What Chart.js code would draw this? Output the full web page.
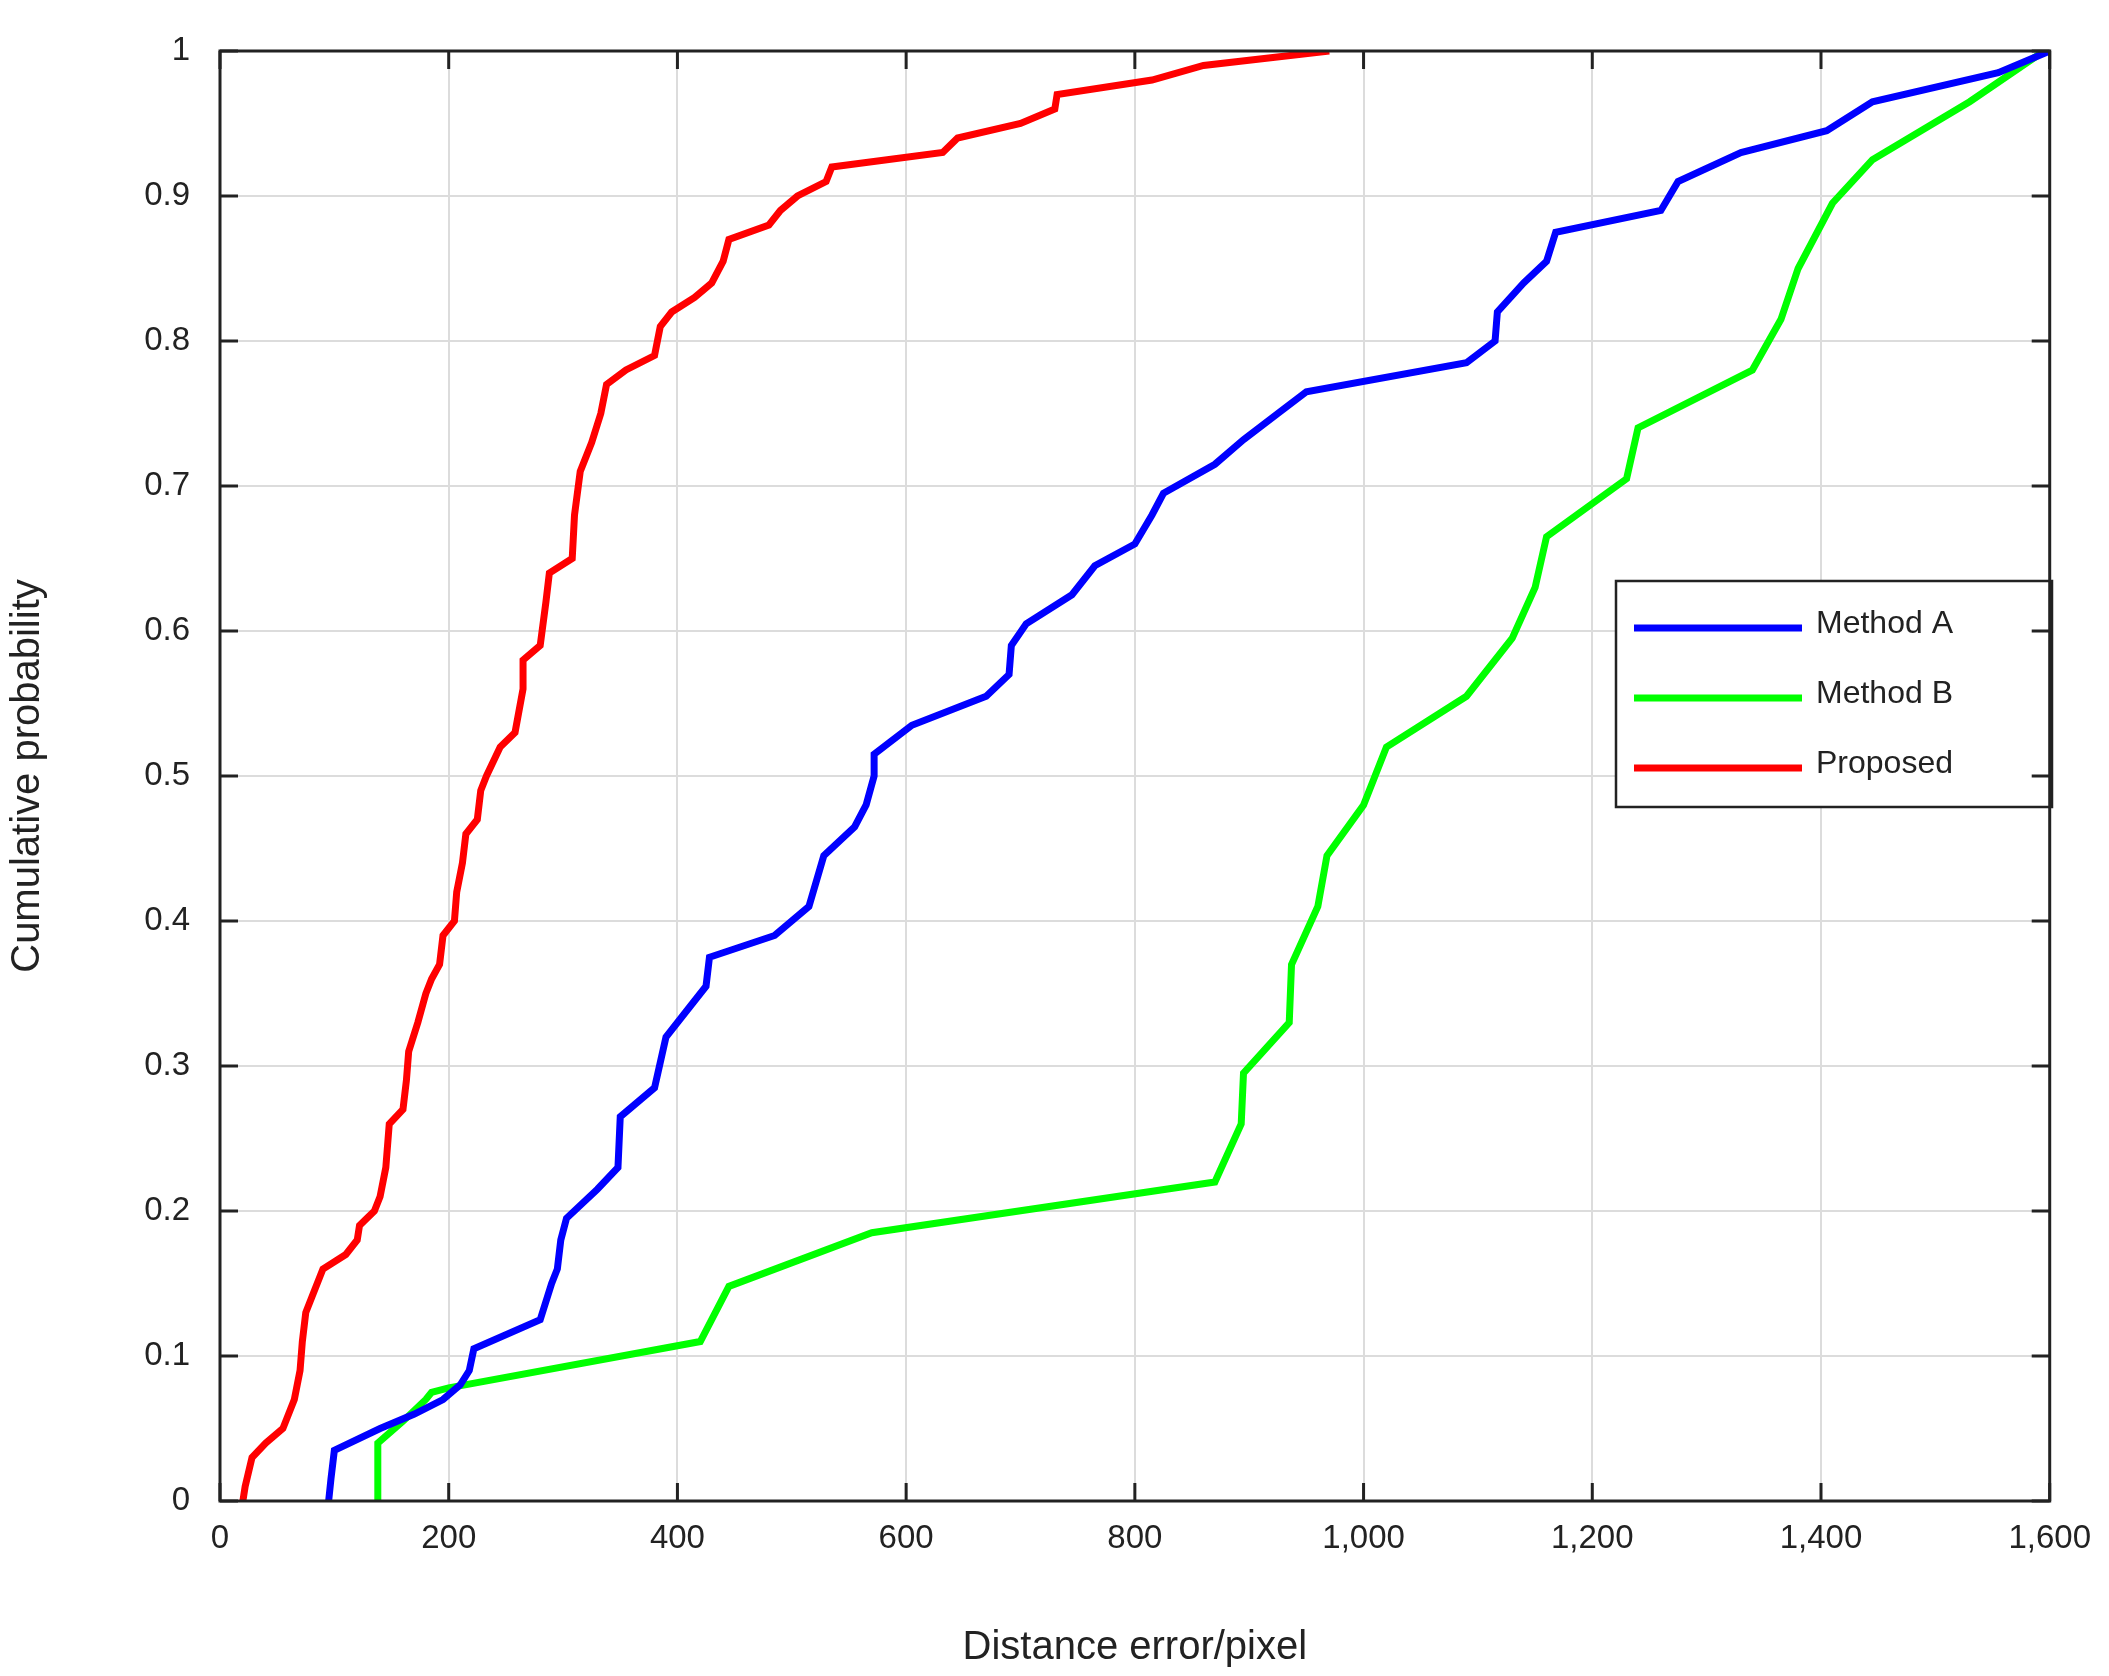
<!DOCTYPE html>
<html><head><meta charset="utf-8">
<script src="https://cdn.jsdelivr.net/npm/chart.js@4"></script>
<style>html,body{margin:0;background:#fff}#w{width:2109px;height:1676px}</style>
</head><body><div id="w"><canvas id="c"></canvas></div>
<script>
const xTicks=[0,200,400,600,800,1000,1200,1400,1600];
const yTicks=[0,0.1,0.2,0.3,0.4,0.5,0.6,0.7,0.8,0.9,1];
const seriesNames=['Method A','Method B','Proposed'];
const methodA=[[95,0],[97,0.015],[100,0.035],[140,0.05],[170,0.06],[195,0.07],[210,0.08],[218,0.09],[222,0.105],[280,0.125],[290,0.15],[295,0.16],[298,0.18],[303,0.195],[330,0.215],[348,0.23],[350,0.265],[380,0.285],[390,0.32],[410,0.34],[425,0.355],[428,0.375],[485,0.39],[515,0.41],[528,0.445],[555,0.465],[565,0.48],[572,0.5],[572,0.515],[605,0.535],[670,0.555],[690,0.57],[692,0.59],[705,0.605],[745,0.625],[765,0.645],[800,0.66],[815,0.68],[825,0.695],[870,0.715],[895,0.732],[925,0.75],[950,0.765],[1090,0.785],[1115,0.80],[1117,0.82],[1140,0.84],[1160,0.855],[1168,0.875],[1260,0.89],[1275,0.91],[1330,0.93],[1405,0.945],[1445,0.965],[1555,0.985],[1600,1.0]];
const methodB=[[138,0],[138,0.04],[160,0.055],[180,0.07],[185,0.075],[200,0.078],[420,0.11],[445,0.148],[570,0.185],[870,0.22],[893,0.26],[895,0.295],[935,0.33],[937,0.37],[960,0.41],[968,0.445],[1000,0.48],[1020,0.52],[1090,0.555],[1130,0.595],[1150,0.63],[1160,0.665],[1230,0.705],[1240,0.74],[1340,0.78],[1365,0.815],[1380,0.85],[1410,0.895],[1445,0.925],[1530,0.965],[1595,1.0]];
const proposed=[[20,0],[22,0.01],[28,0.03],[40,0.04],[55,0.05],[65,0.07],[70,0.09],[72,0.11],[75,0.13],[80,0.14],[90,0.16],[110,0.17],[120,0.18],[122,0.19],[135,0.2],[140,0.21],[145,0.23],[148,0.26],[160,0.27],[163,0.29],[165,0.31],[173,0.33],[180,0.35],[185,0.36],[192,0.37],[195,0.39],[205,0.40],[207,0.42],[212,0.44],[215,0.46],[225,0.47],[228,0.49],[233,0.50],[245,0.52],[258,0.53],[265,0.56],[265,0.58],[280,0.59],[285,0.62],[288,0.64],[308,0.65],[310,0.68],[315,0.71],[325,0.73],[333,0.75],[338,0.77],[355,0.78],[380,0.79],[385,0.81],[395,0.82],[415,0.83],[430,0.84],[440,0.855],[445,0.87],[480,0.88],[490,0.89],[505,0.90],[530,0.91],[535,0.92],[632,0.93],[645,0.94],[700,0.95],[730,0.96],[732,0.97],[815,0.98],[860,0.99],[970,1.0]];
const colors=['#0000ff','#00ff00','#ff0000'];
const toPts=a=>a.map(p=>({x:p[0],y:p[1]}));
const F='Arial, "Liberation Sans", sans-serif';
const legendPlugin={id:'lg',afterDatasetsDraw(ch){const c=ch.ctx;const x=1616,y=581,w=436,h=226;
c.save();c.fillStyle='#fff';c.fillRect(x,y,w,h);c.strokeStyle='#222';c.lineWidth=2.5;c.strokeRect(x,y,w,h);
c.font='32px '+F;c.textBaseline='middle';
seriesNames.forEach((n,i)=>{const yy=y+43+i*70;c.strokeStyle=colors[i];c.lineWidth=7;c.beginPath();c.moveTo(x+18,yy+4);c.lineTo(x+186,yy+4);c.stroke();c.fillStyle='#222';c.fillText(n,x+200,yy);});
c.restore();},
afterDraw(ch){const c=ch.ctx,a=ch.chartArea,xs=ch.scales.x,ys=ch.scales.y;c.save();c.strokeStyle='#222';c.lineWidth=3;
xTicks.forEach(v=>{const px=xs.getPixelForValue(v);c.beginPath();c.moveTo(px,a.bottom);c.lineTo(px,a.bottom-18);c.moveTo(px,a.top);c.lineTo(px,a.top+18);c.stroke();});
yTicks.forEach(v=>{const py=ys.getPixelForValue(v);c.beginPath();c.moveTo(a.left,py);c.lineTo(a.left+18,py);c.moveTo(a.right,py);c.lineTo(a.right-18,py);c.stroke();});
c.strokeRect(a.left,a.top,a.right-a.left,a.bottom-a.top);c.restore();}};
new Chart(document.getElementById('c'),{type:'line',
data:{datasets:[methodA,methodB,proposed].map((d,i)=>({label:seriesNames[i],data:toPts(d),borderColor:colors[i],borderWidth:7,pointRadius:0,tension:0,fill:false}))},
options:{responsive:true,maintainAspectRatio:false,animation:false,
layout:{padding:{top:51,right:54,left:0,bottom:0}},
plugins:{legend:{display:false},tooltip:{enabled:false}},
scales:{
x:{type:'linear',min:0,max:1600,afterBuildTicks:s=>{s.ticks=xTicks.map(v=>({value:v}));},afterFit:s=>{s.height=175;},
grid:{color:'#dcdcdc',lineWidth:2,drawTicks:false},border:{display:false},
ticks:{padding:18,color:'#222',font:{size:33,family:F}},
title:{display:true,text:'Distance error/pixel',color:'#222',font:{size:40,family:F},padding:{top:20}}},
y:{type:'linear',min:0,max:1,afterBuildTicks:s=>{s.ticks=yTicks.map(v=>({value:v}));},afterFit:s=>{s.width=220;},
grid:{color:'#dcdcdc',lineWidth:2,drawTicks:false},border:{display:false},
ticks:{padding:30,color:'#222',font:{size:33,family:F},callback:v=>String(v)},
title:{display:true,text:'Cumulative probability',color:'#222',font:{size:40,family:F},padding:{bottom:20}}}}},
plugins:[legendPlugin]});
</script></body></html>
